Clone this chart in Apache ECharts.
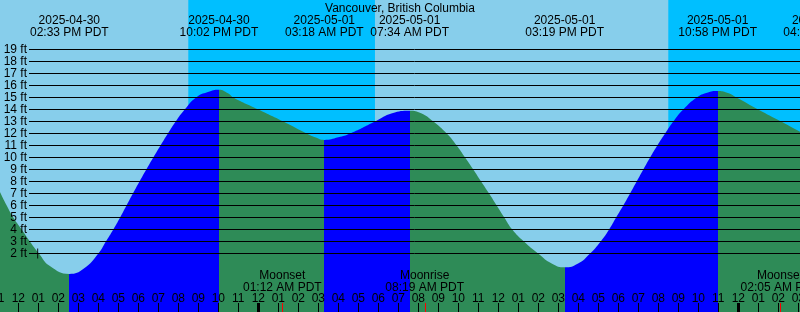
<!DOCTYPE html>
<html><head><meta charset="utf-8">
<script src="https://cdn.jsdelivr.net/npm/echarts@6/dist/echarts.min.js"></script>
<style>html,body{margin:0;padding:0;background:#87CEEB}#c{width:800px;height:312px}</style>
</head><body><div id="c"></div>
<script>
// ---------------- data ----------------
const stationName = 'Vancouver, British Columbia';
const tzName = 'PDT';
const tideStamps = ['2025-04-30 02:33 PM', '2025-04-30 10:02 PM', '2025-05-01 03:18 AM', '2025-05-01 07:34 AM', '2025-05-01 03:19 PM', '2025-05-01 10:58 PM', '2025-05-02 04:13 AM'];
const tideKinds = ['low', 'high', 'low', 'high', 'low', 'high', 'low'];
const moonStamps = ['2025-05-01 01:12 AM', '2025-05-01 08:19 AM', '2025-05-02 02:05 AM'];
const moonEvents = ['Moonset', 'Moonrise', 'Moonset'];
const nightStarts = ['2025-04-30 08:30 PM', '2025-05-01 08:30 PM'];
const nightEnds = ['2025-05-01 05:50 AM', null];
const midnightStamps = ['2025-05-01 12:00 AM', '2025-05-02 12:00 AM'];
const markStamp = '2025-04-30 12:58 PM';
const markFeet = 2;
// tide curve: hours after 2025-05-01 00:00 PDT, height in feet
const curveHours = [-12.92, -12.58, -12.25, -11.83, -11.42, -10.97, -10.42, -9.45, -8.72, -8.0, -7.62, -7.25, -6.91, -6.59, -6.27, -5.94, -5.6, -5.25, -4.89, -4.52, -4.13, -3.68, -3.11, -2.52, -1.97, -1.52, -1.25, 0.0, 1.25, 2.42, 2.84, 3.3, 4.0, 4.59, 5.84, 6.69, 7.57, 8.14, 8.75, 9.42, 9.92, 10.34, 10.75, 11.14, 11.54, 11.92, 12.3, 12.7, 13.28, 13.99, 14.69, 15.32, 15.99, 16.59, 17.12, 17.54, 17.89, 18.25, 18.59, 18.92, 19.25, 19.59, 19.95, 20.34, 20.75, 21.25, 21.92, 22.44, 22.97, 23.44, 23.92, 24.99, 26.14, 27.09];
const curveFeet  = [7.15, 6.0, 5.0, 4.0, 3.0, 2.0, 0.95, 0.3, 0.75, 2.0, 3.0, 4.0, 5.0, 6.0, 7.0, 8.0, 9.0, 10.0, 11.0, 12.0, 13.0, 14.0, 15.0, 15.45, 15.65, 15.35, 15.0, 14.0, 13.0, 12.0, 11.68, 11.46, 11.68, 12.0, 13.0, 13.68, 13.9, 13.68, 13.0, 12.0, 11.0, 10.0, 9.0, 8.0, 7.0, 6.0, 5.0, 4.0, 3.0, 2.0, 1.15, 0.85, 1.17, 2.0, 3.0, 4.0, 5.0, 6.0, 7.0, 8.0, 9.0, 10.0, 11.0, 12.0, 13.0, 14.0, 15.0, 15.4, 15.54, 15.4, 15.0, 14.0, 13.0, 12.15];
const levelMin = 2, levelMax = 19, levelStep = 1;   // "N ft" rules
const hourMin = -13, hourMax = 28;                  // hourly tick range

// ---------------- helpers ----------------
const C = { day: '#87CEEB', night: '#00BFFF', rise: '#0000FF', fall: '#2E8B57', ink: '#000000', moon: '#FF0000' };
const FONT = '"Liberation Sans", Arial, Helvetica, sans-serif';
function hoursOf(stamp) {
  const [d, t, ap] = stamp.split(' ');
  const [Y, M, D] = d.split('-').map(Number);
  const [hh, mm] = t.split(':').map(Number);
  const H = (hh % 12) + (ap === 'PM' ? 12 : 0);
  const days = (Date.UTC(Y, M - 1, D) - Date.UTC(2025, 4, 1)) / 86400000;
  return days * 24 + H + mm / 60;
}
const ext = tideStamps.map(hoursOf);
const pieces = [];
pieces.push({ lt: ext[0], color: tideKinds[0] === 'low' ? C.fall : C.rise });
for (let i = 0; i < ext.length - 1; i++) {
  pieces.push({ gte: ext[i], lt: ext[i + 1], color: tideKinds[i] === 'low' ? C.rise : C.fall });
}
pieces.push({ gte: ext[ext.length - 1], color: tideKinds[ext.length - 1] === 'low' ? C.rise : C.fall });

const curveData = curveHours.map((h, i) => [h, curveFeet[i]]);
const nightData = nightStarts.map((s, i) => [hoursOf(s), nightEnds[i] ? hoursOf(nightEnds[i]) : hourMax]);
const tideLabelData = ext.map((h, i) => [h, i]);
const moonData = moonStamps.map((s, i) => [hoursOf(s), i]);
const midnightData = midnightStamps.map(s => [hoursOf(s), 0]);
const hourTicks = [];
for (let h = hourMin; h <= hourMax; h++) hourTicks.push([h, 0]);

function hourLabel(v) {
  const h = ((Math.round(v) % 12) + 12) % 12;
  return String(h === 0 ? 12 : h).padStart(2, '0');
}
function txt(text, x, y) {
  return { type: 'text', x: x, y: y, style: { text: text, fill: C.ink, font: '12px ' + FONT, align: 'center', verticalAlign: 'middle' } };
}

const chart = echarts.init(document.getElementById('c'), null, { renderer: 'canvas' });
chart.setOption({
  animation: false,
  backgroundColor: C.day,
  title: { text: stationName, left: 'center', top: 3, padding: 0,
    textStyle: { fontSize: 12, fontWeight: 'normal', color: C.ink, fontFamily: FONT } },
  grid: [
    { left: -1.7, width: 820, top: 0, height: 312, outerBoundsMode: 'none', containLabel: false },
    { left: 29, right: 0, top: 49.5, height: 204, outerBoundsMode: 'none', containLabel: false }
  ],
  xAxis: [
    { type: 'value', gridIndex: 0, min: hourMin, max: hourMax, interval: 1, z: 4,
      axisLine: { show: false, onZero: false }, splitLine: { show: false },
      axisTick: { show: true, inside: true, length: 9, lineStyle: { color: C.ink, width: 1 } },
      axisLabel: { show: false } },
    { type: 'value', gridIndex: 1, min: 0, max: 1, show: false }
  ],
  yAxis: [
    { type: 'value', gridIndex: 0, min: -2.875, max: 23.125, show: false },
    { type: 'value', gridIndex: 1, min: levelMin, max: levelMax, interval: levelStep, z: 3,
      axisLine: { show: false }, axisTick: { show: false },
      splitLine: { show: true, lineStyle: { color: C.ink, width: 1 } },
      axisLabel: { margin: 2, color: C.ink, fontSize: 12, fontFamily: FONT, formatter: '{value} ft' } }
  ],
  visualMap: { type: 'piecewise', show: false, dimension: 0, seriesIndex: 1, pieces: pieces },
  series: [
    { type: 'custom', name: 'night', z: 1, xAxisIndex: 0, yAxisIndex: 0, data: nightData, silent: true,
      renderItem(params, api) {
        const cs = params.coordSys;
        const x1 = api.coord([api.value(0), 0])[0];
        const x2 = api.coord([api.value(1), 0])[0];
        return { type: 'rect', shape: { x: x1, y: cs.y, width: x2 - x1, height: cs.height }, style: { fill: C.night } };
      } },
    { type: 'line', name: 'tide', z: 2, xAxisIndex: 0, yAxisIndex: 0, data: curveData, smooth: 0.5,
      showSymbol: false, lineStyle: { width: 0, opacity: 0 }, areaStyle: { opacity: 1, origin: 'start' }, silent: true },
    { type: 'scatter', name: 'mark', z: 6, xAxisIndex: 0, yAxisIndex: 0, data: [[hoursOf(markStamp), markFeet]],
      symbol: 'path://M0,4H4V0H5V4H9V5H5V9H4V5H0Z', symbolSize: 10, itemStyle: { color: C.ink }, silent: true },
    { type: 'custom', name: 'midnight', z: 5, xAxisIndex: 0, yAxisIndex: 0, data: midnightData, silent: true,
      renderItem(params, api) {
        const cs = params.coordSys;
        const x = api.coord([api.value(0), 0])[0];
        return { type: 'rect', shape: { x: Math.round(x) - 1, y: cs.y + cs.height - 9, width: 3, height: 9 }, style: { fill: C.ink } };
      } },
    { type: 'custom', name: 'moonTicks', z: 5, xAxisIndex: 0, yAxisIndex: 0, data: moonData, silent: true,
      renderItem(params, api) {
        const cs = params.coordSys;
        const x = api.coord([api.value(0), 0])[0];
        return { type: 'rect', shape: { x: Math.round(x), y: cs.y + cs.height - 9, width: 1, height: 9 }, style: { fill: C.moon } };
      } },
    { type: 'custom', name: 'hourLabels', z: 6, xAxisIndex: 0, yAxisIndex: 0, data: hourTicks, silent: true,
      renderItem(params, api) {
        const x = api.coord([api.value(0), 0])[0];
        return txt(hourLabel(api.value(0)), x, 298.7);
      } },
    { type: 'custom', name: 'tideLabels', z: 6, xAxisIndex: 0, yAxisIndex: 0, data: tideLabelData, silent: true,
      renderItem(params, api) {
        const x = api.coord([api.value(0), 0])[0];
        const s = tideStamps[api.value(1)];
        return { type: 'group', children: [txt(s.slice(0, 10), x, 20.8), txt(s.slice(11) + ' ' + tzName, x, 32.5)] };
      } },
    { type: 'custom', name: 'moonLabels', z: 6, xAxisIndex: 0, yAxisIndex: 0, data: moonData, silent: true,
      renderItem(params, api) {
        const x = api.coord([api.value(0), 0])[0];
        const i = api.value(1);
        return { type: 'group', children: [txt(moonEvents[i], x, 275.5), txt(moonStamps[i].slice(11) + ' ' + tzName, x, 287.2)] };
      } }
  ]
});
</script></body></html>
